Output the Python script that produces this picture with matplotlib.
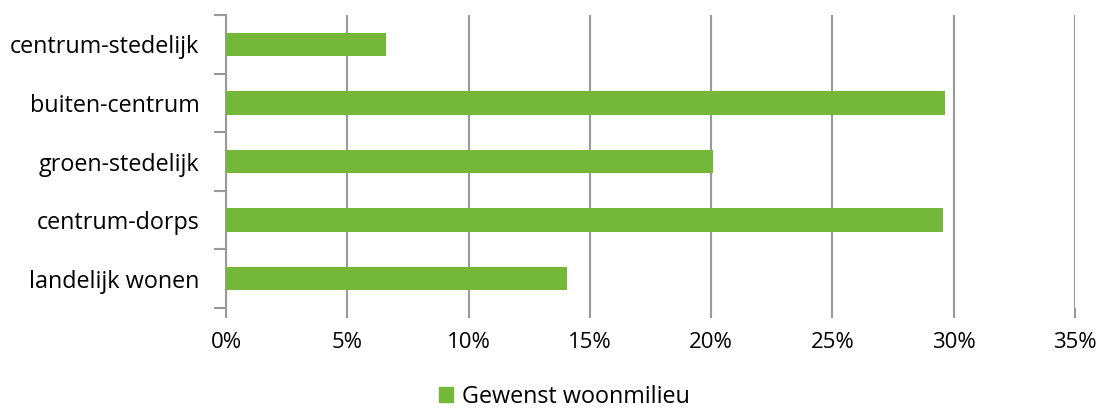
import matplotlib.pyplot as plt
from matplotlib.ticker import MultipleLocator, FuncFormatter
from matplotlib.patches import Patch

categories = ['landelijk wonen', 'centrum-dorps', 'groen-stedelijk', 'buiten-centrum', 'centrum-stedelijk']
values = [14.07, 29.54, 20.09, 29.66, 6.6]
series_name = 'Gewenst woonmilieu'

green = '#74b739'
grid_gray = '#999999'

plt.rcParams['font.family'] = ['Open Sans', 'DejaVu Sans']

fig = plt.figure(figsize=(11.03, 4.09), dpi=100)
ax = fig.add_axes([0.2049, 0.2469, 0.7697, 0.7164])

y = range(len(categories))
ax.barh(y, values, height=0.4, color=green, zorder=3)

ax.set_xlim(0, 35)
ax.set_ylim(-0.5, len(categories) - 0.5)
ax.xaxis.set_major_locator(MultipleLocator(5))
ax.xaxis.set_major_formatter(FuncFormatter(lambda v, p: f'{v:.0f}%'))
ax.grid(axis='x', color=grid_gray, linewidth=1.5, zorder=0)

# category labels between boundary ticks
ax.set_yticks([i - 0.5 for i in range(len(categories) + 1)])
ax.set_yticklabels([])
ax.set_yticks(list(y), minor=True)
ax.set_yticklabels(categories, minor=True, fontsize=16.8)
ax.tick_params(axis='y', which='minor', length=0, pad=19)
ax.tick_params(axis='y', which='major', length=9, width=1.5, color=grid_gray)
ax.tick_params(axis='x', length=7, width=1.5, color=grid_gray, labelsize=16, pad=10)

for s in ['top', 'right', 'bottom']:
    ax.spines[s].set_visible(False)
ax.spines['left'].set_color(grid_gray)
ax.spines['left'].set_linewidth(1.5)

fig.legend(handles=[Patch(color=green, label=series_name)], loc='center',
           bbox_to_anchor=(0.512, 0.03), frameon=False, fontsize=16.8,
           handlelength=0.6, handleheight=0.6, handletextpad=0.4)

fig.savefig('out.png', dpi=100)
